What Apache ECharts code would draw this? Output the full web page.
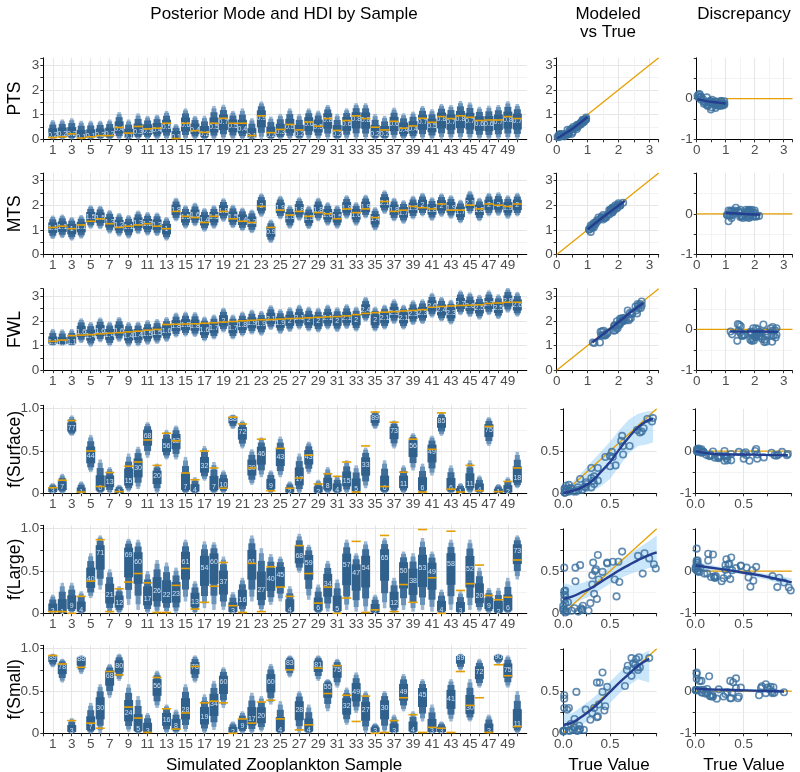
<!DOCTYPE html>
<html>
<head>
<meta charset="utf-8">
<script src="https://cdn.jsdelivr.net/npm/echarts@6/dist/echarts.min.js"></script>
<style>
  html, body { margin: 0; padding: 0; background: #fff; }
  #main { width: 800px; height: 772px; }
</style>
</head>
<body>
<div id="main"></div>
<script>
var FONT = 'Liberation Sans, Arial, sans-serif';

// ---- data ----
var sampleIds = [];
for (var s = 1; s <= 50; s++) sampleIds.push(s);

var ptsMode = [0.17,0.21,0.2,0.08,0.12,0.18,0.2,0.42,0.12,0.3, 0.33,0.38,0.5,0.1,0.58,0.38,0.2,0.5,0.68,0.52, 0.42,0.12,0.88,0.18,0.3,0.48,0.22,0.6,0.5,0.78, 0.2,0.62,0.8,0.78,0.22,0.2,0.6,0.38,0.42,0.7, 0.52,0.8,0.7,0.82,0.72,0.62,0.6,0.68,0.78,0.72];
var ptsTrue = [0.07,0.1,0.22,0.05,0.1,0.15,0.15,0.48,0.25,0.52, 0.42,0.45,0.65,0.03,0.65,0.35,0.28,0.65,0.85,0.65, 0.65,0.15,0.95,0.27,0.4,0.6,0.38,0.7,0.53,0.84, 0.36,0.76,0.95,0.84,0.49,0.38,0.73,0.45,0.54,0.85, 0.69,0.92,0.84,0.95,0.89,0.76,0.78,0.78,0.92,0.84];
var ptsHi = [0.78,0.8,0.85,0.75,0.75,0.75,0.8,1.1,0.8,1.05, 0.95,1.0,1.15,0.62,1.25,0.95,0.95,1.35,1.4,1.15, 1.25,0.85,1.53,0.92,1.03,1.25,1.03,1.25,1.16,1.39, 1.03,1.25,1.46,1.46,1.03,0.95,1.28,1.05,1.12,1.35, 1.22,1.43,1.39,1.55,1.5,1.32,1.36,1.39,1.54,1.43];
var ptsLo = [0,0,0,0,0,0,0,0,0,0, 0,0,0,0,0,0,0,0,0,0, 0,0,0,0,0,0,0,0,0,0, 0,0,0,0,0,0,0,0,0,0, 0,0,0,0,0,0,0,0,0,0];

var mtsMode = [1.08,1.12,1.02,1.1,1.5,1.48,1.3,1.18,1.1,1.28, 1.22,1.2,1.02,1.8,1.5,1.6,1.38,1.5,1.78,1.52, 1.4,1.32,1.98,0.92,1.88,1.5,1.82,1.48,1.8,1.62, 1.5,1.9,1.62,1.92,1.42,2.1,1.8,1.7,1.88,2.0, 1.82,1.98,1.9,1.72,2.08,1.8,2.0,2.02,1.9,2.0];
var mtsTrue = [1.1,1.15,1.05,1.2,1.35,1.45,1.25,1.1,1.15,1.2, 1.25,1.15,1.05,1.75,1.55,1.5,1.3,1.55,1.75,1.45, 1.35,1.3,1.95,1.1,1.8,1.6,1.75,1.55,1.7,1.65, 1.45,1.85,1.7,1.85,1.5,2.15,1.75,1.8,1.95,1.9, 1.85,2.05,1.8,1.8,2.0,1.85,2.05,2.0,1.95,2.05];
var mtsHi = [1.58,1.62,1.52,1.6,2.0,1.98,1.8,1.68,1.6,1.78, 1.72,1.7,1.52,2.3,2.0,2.1,1.88,2.0,2.28,2.02, 1.9,1.82,2.48,1.42,2.38,2.0,2.32,1.98,2.3,2.12, 2.0,2.4,2.12,2.42,1.92,2.6,2.3,2.2,2.38,2.5, 2.32,2.48,2.4,2.22,2.58,2.3,2.5,2.52,2.4,2.5];
var mtsLo = [0.63,0.67,0.57,0.65,1.05,1.03,0.85,0.73,0.65,0.83, 0.77,0.75,0.57,1.35,1.05,1.15,0.93,1.05,1.33,1.07, 0.95,0.87,1.53,0.47,1.43,1.05,1.37,1.03,1.35,1.17, 1.05,1.45,1.17,1.47,0.97,1.65,1.35,1.25,1.43,1.55, 1.37,1.53,1.45,1.27,1.63,1.35,1.55,1.57,1.45,1.55];

var fwlMode = [1.12,1.1,1.12,1.55,1.4,1.58,1.42,1.6,1.4,1.42, 1.48,1.52,1.6,1.78,1.82,1.8,1.62,1.7,1.98,1.7, 1.82,1.9,1.85,2.08,1.92,2.0,2.1,2.02,1.98,2.1, 2.0,2.12,2.02,2.42,2.02,2.1,2.32,2.1,2.28,2.32, 2.58,2.42,2.3,2.68,2.6,2.5,2.68,2.52,2.78,2.62];
var fwlTrue = [1.17,1.22,1.4,1.42,1.44,1.47,1.5,1.52,1.55,1.58, 1.62,1.65,1.85,1.86,1.87,1.88,1.9,1.92,1.95,1.97, 2.0,2.02,2.04,2.05,2.07,2.09,2.1,2.12,2.14,2.16, 2.17,2.2,2.25,2.3,2.33,2.35,2.37,2.4,2.42,2.45, 2.55,2.58,2.6,2.62,2.63,2.65,2.7,2.72,2.75,2.75];
var fwlHi = [1.67,1.65,1.67,2.1,1.95,2.13,1.97,2.15,1.95,1.97, 2.03,2.07,2.15,2.33,2.37,2.35,2.17,2.25,2.53,2.25, 2.37,2.45,2.4,2.63,2.47,2.55,2.65,2.57,2.53,2.65, 2.55,2.67,2.57,2.97,2.57,2.65,2.87,2.65,2.83,2.87, 3.13,2.97,2.85,3.23,3.15,3.05,3.23,3.07,3.33,3.17];
var fwlLo = [1.0,1.0,1.0,1.1,0.95,1.13,0.97,1.15,0.95,0.97, 1.03,1.07,1.15,1.33,1.37,1.35,1.17,1.25,1.53,1.25, 1.37,1.45,1.4,1.63,1.47,1.55,1.65,1.57,1.53,1.65, 1.55,1.67,1.57,1.97,1.57,1.65,1.87,1.65,1.83,1.87, 2.13,1.97,1.85,2.23,2.15,2.05,2.23,2.07,2.33,2.17];

var surfMode = [0.03,0.07,0.77,0.01,0.44,0.06,0.13,0.01,0.15,0.30, 0.68,0.20,0.56,0.62,0.07,0.04,0.32,0.07,0.10,0.88, 0.72,0.30,0.46,0.09,0.43,0.02,0.17,0.43,0.02,0.08, 0.04,0.15,0.05,0.33,0.89,0.06,0.73,0.11,0.56,0.06, 0.49,0.85,0.06,0.01,0.11,0.04,0.75,0.01,0.02,0.18];
var surfTrue = [0.066,0.155,0.86,0.015,0.5,0.08,0.245,0.02,0.32,0.37, 0.63,0.33,0.71,0.62,0.24,0.16,0.5,0.3,0.06,0.9, 0.82,0.3,0.64,0.03,0.53,0.06,0.18,0.45,0.11,0.23, 0.2,0.37,0.015,0.56,0.96,0.08,0.84,0.25,0.64,0.015, 0.52,0.95,0.05,0.015,0.33,0.03,0.79,0.02,0.14,0.3];
var surfHi = [0.12,0.23,0.92,0.14,0.69,0.4,0.31,0.1,0.47,0.55, 0.84,0.35,0.75,0.8,0.43,0.19,0.56,0.37,0.27,0.93, 0.86,0.52,0.66,0.27,0.67,0.14,0.47,0.61,0.16,0.31, 0.21,0.39,0.33,0.54,0.97,0.39,0.86,0.33,0.71,0.35, 0.68,0.96,0.33,0.12,0.39,0.21,0.9,0.11,0.19,0.49];
var surfLo = [0,0,0.68,0,0.25,0,0,0,0.02,0.05, 0.42,0,0.4,0.4,0,0,0.15,0,0,0.76, 0.53,0.1,0.19,0,0.19,0,0,0.23,0,0, 0,0,0,0.06,0.76,0,0.53,0,0.27,0, 0.21,0.68,0,0,0,0,0.56,0,0,0.06];

var largeMode = [0.03,0.01,0.09,0.04,0.40,0.71,0.21,0.12,0.69,0.60, 0.17,0.26,0.22,0.23,0.61,0.13,0.54,0.60,0.37,0.03, 0.16,0.61,0.27,0.40,0.45,0.04,0.68,0.59,0.06,0.34, 0.05,0.57,0.47,0.54,0.02,0.65,0.12,0.50,0.38,0.53, 0.49,0.04,0.58,0.03,0.52,0.20,0.09,0.02,0.06,0.73];
var largeTrue = [0.02,0.02,0.0,0.2,0.38,0.87,0.02,0.29,0.37,0.47, 0.36,0.01,0.01,0.33,0.53,0.05,0.13,0.32,0.6,0.09, 0.01,0.59,0.02,0.55,0.31,0.2,0.8,0.47,0.12,0.31, 0.0,0.18,0.85,0.01,0.04,0.92,0.02,0.34,0.13,0.99, 0.42,0.0,0.97,0.27,0.35,0.57,0.21,0.16,0.19,0.63];
var largeHi = [0.22,0.36,0.36,0.26,0.71,0.92,0.52,0.32,0.88,0.87, 0.5,0.63,0.6,0.54,0.87,0.38,0.85,0.84,0.67,0.25, 0.42,0.92,0.77,0.7,0.67,0.32,0.94,0.81,0.34,0.62, 0.4,0.87,0.71,0.85,0.22,0.89,0.42,0.73,0.71,0.89, 0.73,0.28,0.87,0.26,0.87,0.54,0.3,0.3,0.42,0.92];
var largeLo = [0,0,0,0,0.18,0.28,0,0,0.1,0.04, 0,0,0,0,0.14,0,0.06,0.04,0.04,0, 0,0.14,0.02,0.1,0.14,0,0.48,0.16,0,0.02, 0,0.04,0.02,0.02,0,0.06,0,0.04,0.02,0.04, 0.02,0,0.04,0,0.04,0.02,0,0,0,0.4];

var smallMode = [0.89,0.78,0.03,0.88,0.07,0.30,0.68,0.80,0.24,0.05, 0.03,0.56,0.16,0.08,0.28,0.78,0.19,0.34,0.60,0.02, 0.09,0.17,0.20,0.60,0.04,0.83,0.28,0.04,0.81,0.55, 0.75,0.32,0.49,0.27,0.03,0.30,0.03,0.49,0.04,0.45, 0.03,0.03,0.41,0.89,0.30,0.72,0.03,0.90,0.75,0.11];
var smallTrue = [0.92,0.82,0.15,0.78,0.12,0.06,0.73,0.69,0.31,0.18, 0.01,0.66,0.29,0.05,0.24,0.79,0.36,0.38,0.36,0.0, 0.17,0.12,0.37,0.39,0.17,0.75,0.04,0.1,0.77,0.47, 0.8,0.45,0.14,0.44,0.0,0.01,0.15,0.42,0.22,0.01, 0.07,0.06,0.01,0.73,0.33,0.42,0.01,0.81,0.68,0.08];
var smallHi = [0.94,0.88,0.18,0.92,0.36,0.58,0.82,0.94,0.58,0.44, 0.24,0.74,0.34,0.28,0.58,0.92,0.46,0.62,0.78,0.14, 0.26,0.48,0.44,0.82,0.38,0.92,0.5,0.34,0.92,0.64, 0.88,0.54,0.72,0.5,0.12,0.5,0.22,0.7,0.26,0.64, 0.34,0.14,0.64,0.94,0.64,0.88,0.22,0.94,0.92,0.5];
var smallLo = [0.78,0.6,0,0.7,0,0,0.42,0.62,0.02,0, 0,0.3,0,0,0.02,0.6,0,0.04,0.3,0, 0,0,0.02,0.34,0,0.66,0,0,0.62,0.26, 0.54,0.1,0.24,0,0,0,0,0.26,0,0.14, 0,0,0.14,0.74,0.14,0.54,0,0.82,0.54,0];

// smoother fits (modeled vs true, and discrepancy vs true)
var ptsFitX = [0.02,0.25,0.5,0.75,1.0];
var ptsFitY = [0.04,0.22,0.42,0.66,0.9];
var ptsDiscY = [-0.02,-0.05,-0.08,-0.1,-0.12];
var mtsFitX = [1.0,1.4,1.8,2.2];
var mtsFitY = [1.02,1.42,1.8,2.17];
var mtsDiscY = [0.02,0.01,-0.01,-0.02];
var fwlFitX = [1.15,1.6,2.0,2.4,2.8];
var fwlFitY = [1.12,1.55,1.95,2.35,2.72];
var fwlDiscY = [-0.05,-0.05,-0.05,-0.05,-0.06];

var surfFitX = [0,0.1,0.2,0.3,0.4,0.5,0.6,0.7,0.8,0.9,0.96];
var surfFitY = [0.0,0.03,0.07,0.14,0.25,0.37,0.52,0.66,0.78,0.86,0.88];
var surfFitLo = [0,0,0,0.02,0.08,0.17,0.32,0.47,0.56,0.58,0.6];
var surfFitHi = [0.03,0.13,0.25,0.37,0.49,0.61,0.75,0.87,0.94,0.97,0.97];
var surfDiscX = [0,0.15,0.3,0.5,0.7,0.96];
var surfDiscY = [0.0,-0.06,-0.08,-0.08,-0.09,-0.1];
var surfDiscLo = [-0.04,-0.09,-0.11,-0.11,-0.12,-0.14];
var surfDiscHi = [0.04,-0.03,-0.05,-0.05,-0.06,-0.06];

var largeFitX = [0,0.1,0.2,0.3,0.4,0.5,0.6,0.7,0.8,0.9,1.0];
var largeFitY = [0.17,0.2,0.25,0.3,0.37,0.44,0.51,0.57,0.63,0.68,0.72];
var largeFitLo = [0.07,0.11,0.16,0.21,0.28,0.35,0.41,0.46,0.5,0.53,0.55];
var largeFitHi = [0.36,0.33,0.36,0.4,0.47,0.55,0.63,0.7,0.77,0.84,0.92];
var largeDiscX = [0,0.25,0.5,0.75,1.0];
var largeDiscY = [0.13,0.05,-0.04,-0.14,-0.27];
var largeDiscLo = [0.04,0.0,-0.09,-0.21,-0.37];
var largeDiscHi = [0.22,0.1,0.01,-0.07,-0.17];

var smallFitX = [0,0.1,0.2,0.3,0.4,0.5,0.6,0.7,0.8,0.92];
var smallFitY = [0.1,0.13,0.2,0.28,0.38,0.49,0.6,0.7,0.8,0.88];
var smallFitLo = [0,0.04,0.1,0.17,0.26,0.36,0.47,0.57,0.64,0.6];
var smallFitHi = [0.22,0.24,0.32,0.4,0.5,0.61,0.72,0.82,0.92,0.98];
var smallDiscX = [0,0.15,0.3,0.45,0.6,0.75,0.92];
var smallDiscY = [0.06,0.04,0.03,0.02,0.01,0.0,-0.01];
var smallDiscLo = [0.0,0.0,0.0,-0.02,-0.03,-0.04,-0.06];
var smallDiscHi = [0.12,0.08,0.06,0.06,0.05,0.04,0.04];

var rowNames = ['PTS', 'MTS', 'FWL', 'f(Surface)', 'f(Large)', 'f(Small)'];

// ---- layout ----
var rows = [
  {name: rowNames[0], mode: ptsMode, truth: ptsTrue, lo: ptsLo, hi: ptsHi, frac: false, bottom: 139.3,
   fitX: ptsFitX, fitY: ptsFitY, dX: ptsFitX, dY: ptsDiscY},
  {name: rowNames[1], mode: mtsMode, truth: mtsTrue, lo: mtsLo, hi: mtsHi, frac: false, bottom: 254.6,
   fitX: mtsFitX, fitY: mtsFitY, dX: mtsFitX, dY: mtsDiscY},
  {name: rowNames[2], mode: fwlMode, truth: fwlTrue, lo: fwlLo, hi: fwlHi, frac: false, bottom: 370.2,
   fitX: fwlFitX, fitY: fwlFitY, dX: fwlFitX, dY: fwlDiscY},
  {name: rowNames[3], mode: surfMode, truth: surfTrue, lo: surfLo, hi: surfHi, frac: true, bottom: 493.3,
   fitX: surfFitX, fitY: surfFitY, fitLo: surfFitLo, fitHi: surfFitHi,
   dX: surfDiscX, dY: surfDiscY, dLo: surfDiscLo, dHi: surfDiscHi},
  {name: rowNames[4], mode: largeMode, truth: largeTrue, lo: largeLo, hi: largeHi, frac: true, bottom: 613.3,
   fitX: largeFitX, fitY: largeFitY, fitLo: largeFitLo, fitHi: largeFitHi,
   dX: largeDiscX, dY: largeDiscY, dLo: largeDiscLo, dHi: largeDiscHi},
  {name: rowNames[5], mode: smallMode, truth: smallTrue, lo: smallLo, hi: smallHi, frac: true, bottom: 733.3,
   fitX: smallFitX, fitY: smallFitY, fitLo: smallFitLo, fitHi: smallFitHi,
   dX: smallDiscX, dY: smallDiscY, dLo: smallDiscLo, dHi: smallDiscHi}
];

var ORANGE = '#E69F00';
var NAVY = '#243f8f';
var PT = '#3b6f9e';
var LEVELS = [
  {f: 1.0, w: 3.5, c: '#9ab6d1'},
  {f: 0.88, w: 5, c: '#6a93ba'},
  {f: 0.7, w: 7, c: '#3d6c98'},
  {f: 0.45, w: 9, c: '#30608c'}
];

function axis(gi, min, max, interval, fmt, extra) {
  var a = {
    type: 'value', gridIndex: gi, min: min, max: max, interval: interval,
    axisLine: {show: true, onZero: false, lineStyle: {color: '#000', width: 1}},
    axisTick: {show: true, length: 3, lineStyle: {color: '#333'}},
    axisLabel: {color: '#4d4d4d', fontSize: 13.5, fontFamily: FONT, margin: 4,
                formatter: fmt, showMaxLabel: false, hideOverlap: false},
    splitLine: {show: true, showMaxLine: false, lineStyle: {color: '#e6e6e6', width: 1}},
    minorTick: {show: true, splitNumber: 2, length: 3, lineStyle: {color: '#333'}},
    minorSplitLine: {show: true, lineStyle: {color: '#f3f3f3', width: 1}}
  };
  if (extra) extra(a);
  return a;
}

function fmtPlain(v) { return String(v); }
function fmt1(v) { return v.toFixed(1); }
function fmtFracY(v) { return v === 0 ? '0' : v.toFixed(1); }

function hdiRender(frac) {
  return function (params, api) {
    var x = api.value(0), m = api.value(1), t = api.value(2), lo = api.value(3), hi = api.value(4);
    var kids = [];
    LEVELS.forEach(function (lv) {
      var top = api.coord([x, m + (hi - m) * lv.f]);
      var bot = api.coord([x, m - (m - lo) * lv.f]);
      kids.push({type: 'rect', shape: {x: top[0] - lv.w / 2, y: top[1], width: lv.w, height: Math.max(bot[1] - top[1], 1)},
                 style: {fill: lv.c}});
    });
    var mp = api.coord([x, m]);
    var txt = frac ? String(Math.round(m * 100)) : String(Math.round(m * 10) / 10);
    kids.push({type: 'text', x: mp[0], y: mp[1],
               style: {text: txt, fill: '#cfe1f2', fontSize: 7, fontFamily: FONT,
                       align: 'center', verticalAlign: 'middle', textAlign: 'center', textVerticalAlign: 'middle'}});
    var tp = api.coord([x, t]);
    kids.push({type: 'line', shape: {x1: tp[0] - 4.6, y1: tp[1], x2: tp[0] + 4.6, y2: tp[1]},
               style: {stroke: ORANGE, lineWidth: 1.6}});
    return {type: 'group', children: kids};
  };
}

function ribbonRender(xs, los, his) {
  return function (params, api) {
    var pts = [];
    for (var k = 0; k < xs.length; k++) pts.push(api.coord([xs[k], his[k]]));
    for (var j = xs.length - 1; j >= 0; j--) pts.push(api.coord([xs[j], los[j]]));
    return {type: 'polygon', shape: {points: pts}, style: {fill: 'rgba(135,200,245,0.45)'}};
  };
}

var grids = [], xAxes = [], yAxes = [], series = [], graphics = [];

rows.forEach(function (row, r) {
  var gL = r * 3, gM = r * 3 + 1, gR = r * 3 + 2;
  var hL = row.frac ? 88 : 81.5;
  var hM = row.frac ? 84.5 : 81.5;
  var span = row.frac ? 1 : 3.3;
  var step = row.frac ? 0.5 : 1;

  grids.push({left: 43.3, top: row.bottom - hL, width: 483.5, height: hL});
  grids.push({left: row.frac ? 563.3 : 556.7, top: row.bottom - hM, width: row.frac ? 93.4 : 102, height: hM});
  grids.push({left: row.frac ? 695.7 : 696.7, top: row.bottom - hM, width: row.frac ? 96 : 95.7, height: hM});

  // left: per-sample intervals
  xAxes.push(axis(gL, 0, 51, 1, function (v) { return (v % 2 === 1 && v < 50) ? String(v) : ''; }, function (a) {
    a.axisLabel.interval = 0;
    a.minorTick.show = false;
    a.minorSplitLine.show = false;
    a.splitLine.lineStyle.color = ['#f4f4f4', '#e6e6e6'];
  }));
  yAxes.push(axis(gL, 0, row.frac ? 1.04 : 3.3, step, row.frac ? fmtFracY : fmtPlain));

  // middle: modeled vs true
  xAxes.push(axis(gM, 0, span, step, row.frac ? fmt1 : fmtPlain));
  yAxes.push(axis(gM, 0, span, step, row.frac ? fmtFracY : fmtPlain));

  // right: discrepancy
  xAxes.push(axis(gR, 0, span, step, row.frac ? fmt1 : fmtPlain));
  yAxes.push(axis(gR, -1, 1, 1, fmtPlain));

  series.push({
    type: 'custom', xAxisIndex: gL, yAxisIndex: gL, renderItem: hdiRender(row.frac),
    encode: {x: 0, y: 1},
    data: sampleIds.map(function (id, i) { return [id, row.mode[i], row.truth[i], row.lo[i], row.hi[i]]; }),
    z: 2, silent: true
  });

  if (row.frac) {
    series.push({type: 'custom', xAxisIndex: gM, yAxisIndex: gM, renderItem: ribbonRender(row.fitX, row.fitLo, row.fitHi),
                 data: [[row.fitX[0], row.fitY[0]]], z: 1, silent: true});
    series.push({type: 'custom', xAxisIndex: gR, yAxisIndex: gR, renderItem: ribbonRender(row.dX, row.dLo, row.dHi),
                 data: [[row.dX[0], row.dY[0]]], z: 1, silent: true});
  }

  series.push({type: 'line', xAxisIndex: gM, yAxisIndex: gM, data: [[0, 0], [span, span]], showSymbol: false,
               lineStyle: {color: ORANGE, width: 1.3}, z: 2, silent: true, clip: true});
  series.push({type: 'line', xAxisIndex: gR, yAxisIndex: gR, data: [[0, 0], [span, 0]], showSymbol: false,
               lineStyle: {color: ORANGE, width: 1.3}, z: 2, silent: true});

  series.push({type: 'scatter', xAxisIndex: gM, yAxisIndex: gM, symbol: 'circle', symbolSize: 6.5,
               data: row.truth.map(function (t, i) { return [t, row.mode[i]]; }),
               itemStyle: {color: 'rgba(0,0,0,0)', borderColor: PT, borderWidth: 1.6}, z: 3, silent: true});
  series.push({type: 'scatter', xAxisIndex: gR, yAxisIndex: gR, symbol: 'circle', symbolSize: 6.5,
               data: row.truth.map(function (t, i) { return [t, row.mode[i] - t]; }),
               itemStyle: {color: 'rgba(0,0,0,0)', borderColor: PT, borderWidth: 1.6}, z: 3, silent: true});

  series.push({type: 'line', xAxisIndex: gM, yAxisIndex: gM, smooth: true, showSymbol: false,
               data: row.fitX.map(function (x, k) { return [x, row.fitY[k]]; }),
               lineStyle: {color: NAVY, width: 2.4}, z: 4, silent: true});
  series.push({type: 'line', xAxisIndex: gR, yAxisIndex: gR, smooth: true, showSymbol: false,
               data: row.dX.map(function (x, k) { return [x, row.dY[k]]; }),
               lineStyle: {color: NAVY, width: 2.4}, z: 4, silent: true});

  graphics.push({type: 'text', x: 15, y: row.bottom - hL / 2, rotation: Math.PI / 2,
                 style: {text: row.name, font: '17.5px ' + FONT, fill: '#000',
                         align: 'center', verticalAlign: 'middle', textAlign: 'center', textVerticalAlign: 'middle'}});
});

function label(text, x, y) {
  return {type: 'text', x: x, y: y,
          style: {text: text, font: '17px ' + FONT, fill: '#000',
                  align: 'center', verticalAlign: 'middle', textAlign: 'center', textVerticalAlign: 'middle'}};
}
graphics.push(label('Posterior Mode and HDI by Sample', 284, 14));
graphics.push(label('Modeled', 608, 14));
graphics.push(label('vs True', 608, 32));
graphics.push(label('Discrepancy', 744, 14));
graphics.push(label('Simulated Zooplankton Sample', 284, 765));
graphics.push(label('True Value', 609, 765));
graphics.push(label('True Value', 744, 765));

var chart = echarts.init(document.getElementById('main'));
chart.setOption({
  animation: false,
  backgroundColor: '#fff',
  grid: grids,
  xAxis: xAxes,
  yAxis: yAxes,
  series: series,
  graphic: graphics
});
</script>
</body>
</html>
